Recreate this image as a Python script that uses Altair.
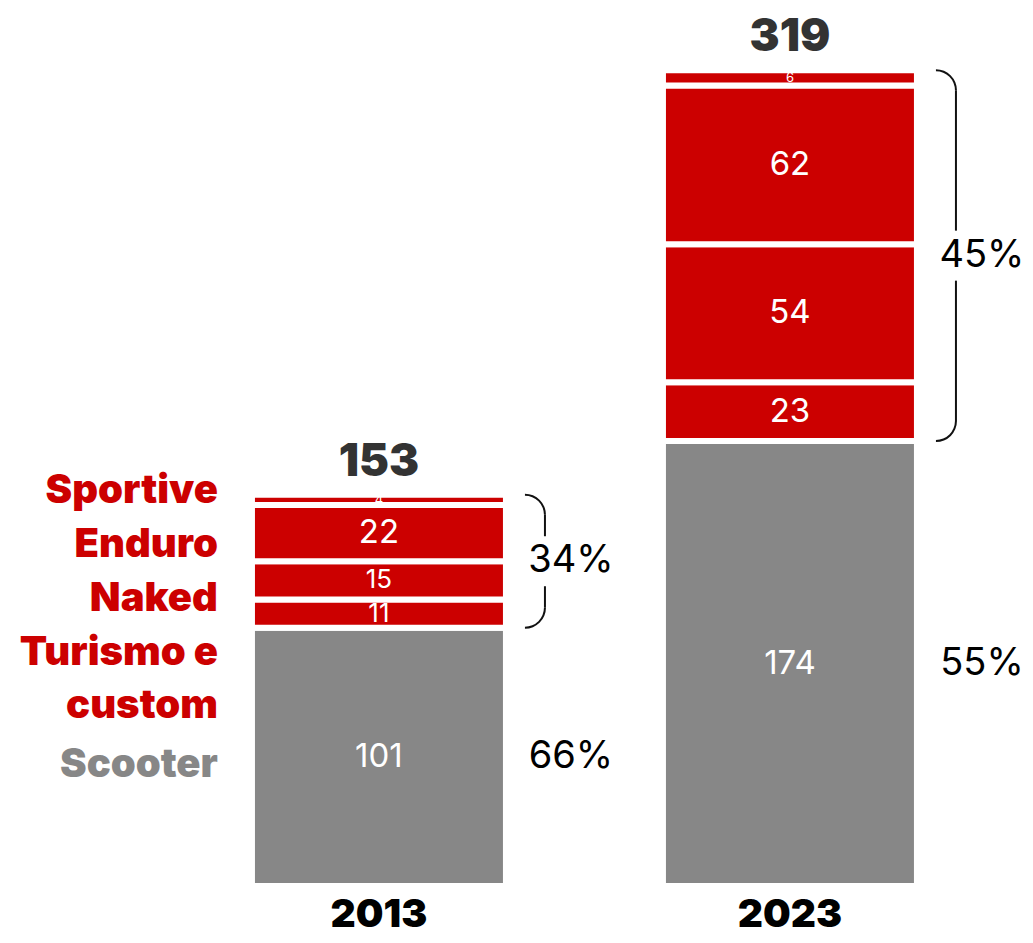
import math
import altair as alt
import pandas as pd

# ---------------- data ----------------
years = ["2013", "2023"]
categories = ["Scooter", "Turismo e custom", "Naked", "Enduro", "Sportive"]
values_2013 = [101, 11, 15, 22, 4]
values_2023 = [174, 23, 54, 62, 6]
label_lines = {"Turismo e custom": ["Turismo e", "custom"]}

RED = "#CC0000"
GRAY = "#878787"
cat_colors = [GRAY, RED, RED, RED, RED]

rows = []
summary = []
for year, vals in zip(years, [values_2013, values_2023]):
    start = 0
    for cat, v, c in zip(categories, vals, cat_colors):
        rows.append(dict(year=year, category=cat, value=v, start=start,
                         end=start + v, mid=start + v / 2, color=c))
        start += v
    total = sum(vals)
    scooter = vals[0]
    red = total - scooter
    summary.append(dict(year=year, total=total, scooter=scooter,
                        scooter_mid=scooter / 2, red_mid=scooter + red / 2,
                        red_pct=f"{round(red / total * 100)}%",
                        scooter_pct=f"{round(scooter / total * 100)}%"))
seg = pd.DataFrame(rows)
summ = pd.DataFrame(summary)

FONT = "Inter"

x_enc = alt.X(
    "year:N",
    scale=alt.Scale(domain=years, paddingInner=0.382, paddingOuter=0.4258, align=0.697),
    axis=alt.Axis(title=None, labelFont=FONT, labelFontSize=39, labelFontWeight=900,
                  labelColor="#000000", labelPadding=9, domain=False, ticks=False,
                  labelAngle=0, grid=False),
)
y_scale = alt.Scale(domain=[0, 341], nice=False, zero=True)

base_seg = alt.Chart(seg)
base_sum = alt.Chart(summ)

bars = base_seg.mark_bar(stroke="white", strokeWidth=6).encode(
    x=x_enc,
    y=alt.Y("start:Q", scale=y_scale, axis=None),
    y2="end:Q",
    color=alt.Color("color:N", scale=None),
)

label_size = (alt.when(alt.datum.value >= 20).then(alt.value(33))
              .when(alt.datum.value >= 10).then(alt.value(26))
              .otherwise(alt.value(13)))

seg_labels = base_seg.mark_text(color="white", font=FONT, baseline="middle").encode(
    x=x_enc,
    y=alt.Y("mid:Q", scale=y_scale, axis=None),
    text="value:Q",
    size=label_size,
)

totals = base_sum.mark_text(font=FONT, fontWeight=900, fontSize=45, color="#333333",
                            baseline="alphabetic", dy=-19).encode(
    x=x_enc,
    y=alt.Y("total:Q", scale=y_scale, axis=None),
    text="total:Q",
)

# category labels next to the 2013 bar (red ones listed downward from the bar top)
layers = [bars, seg_labels, totals]
sum2013 = base_sum.transform_filter(alt.datum.year == years[0])
seg2013 = base_seg.transform_filter(alt.datum.year == years[0])
red_cats = list(reversed(categories[1:]))
offset = 8
for cat in red_cats:
    txt = label_lines.get(cat, cat)
    layers.append(
        sum2013.mark_text(text=txt, font=FONT, fontWeight=900, fontSize=40, color=RED,
                          align="right", baseline="alphabetic", dx=-161, dy=offset,
                          lineHeight=53).encode(
            x=x_enc, y=alt.Y("total:Q", scale=y_scale, axis=None))
    )
    offset += 54 * (len(txt) if isinstance(txt, list) else 1)

layers.append(
    seg2013.transform_filter(alt.datum.category == categories[0]).mark_text(
        font=FONT, fontWeight=900, fontSize=40, color=GRAY, align="right",
        baseline="middle", dx=-161, dy=8).encode(
        x=x_enc, y=alt.Y("mid:Q", scale=y_scale, axis=None), text="category:N")
)

# brackets around the red part
R = 20
LINE = 166
arc_top = base_sum.mark_arc(radius=R + 1, innerRadius=R - 1, theta=0, theta2=math.pi / 2,
                            color="#111111", xOffset=LINE - R, yOffset=R).encode(
    x=x_enc, y=alt.Y("total:Q", scale=y_scale, axis=None))
arc_bot = base_sum.mark_arc(radius=R + 1, innerRadius=R - 1, theta=math.pi / 2, theta2=math.pi,
                            color="#111111", xOffset=LINE - R, yOffset=-R).encode(
    x=x_enc, y=alt.Y("scooter:Q", scale=y_scale, axis=None))
rule_top = base_sum.mark_rule(color="#111111", strokeWidth=2, xOffset=LINE, yOffset=R,
                              y2Offset=-25).encode(
    x=x_enc, y=alt.Y("total:Q", scale=y_scale, axis=None), y2="red_mid:Q")
rule_bot = base_sum.mark_rule(color="#111111", strokeWidth=2, xOffset=LINE, yOffset=25,
                              y2Offset=-R).encode(
    x=x_enc, y=alt.Y("red_mid:Q", scale=y_scale, axis=None), y2="scooter:Q")

pct_red = base_sum.mark_text(font=FONT, fontSize=38, color="#000000", align="center",
                             baseline="middle", dx=192).encode(
    x=x_enc, y=alt.Y("red_mid:Q", scale=y_scale, axis=None), text="red_pct:N")
pct_sc = base_sum.mark_text(font=FONT, fontSize=38, color="#000000", align="center",
                            baseline="middle", dx=192).encode(
    x=x_enc, y=alt.Y("scooter_mid:Q", scale=y_scale, axis=None), text="scooter_pct:N")

layers += [arc_top, arc_bot, rule_top, rule_bot, pct_red, pct_sc]

chart = alt.layer(*layers).properties(
    width=1015, height=872,
    autosize=alt.AutoSizeParams(type="none"),
    padding={"left": 0, "top": 6, "right": 0, "bottom": 50},
    background="white",
).configure_view(stroke=None)

chart.save("out.html", embed_options={"renderer": "svg", "actions": False})
